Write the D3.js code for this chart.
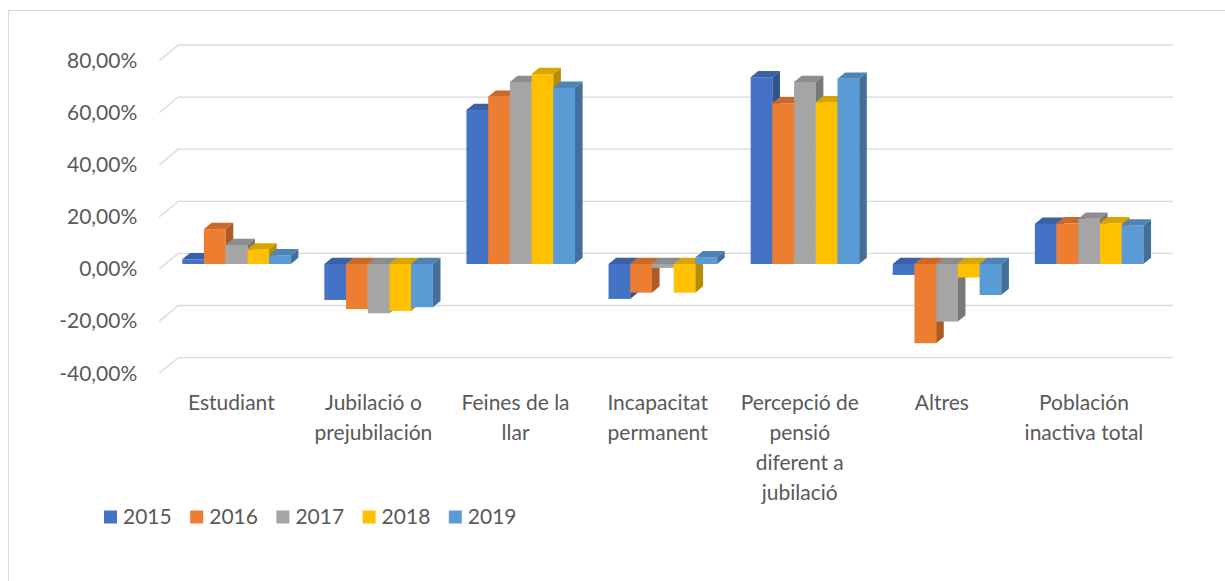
<!DOCTYPE html>
<html>
<head>
<meta charset="utf-8">
<script src="https://cdn.jsdelivr.net/npm/d3@7"></script>
<style>
body { margin: 0; background: #fff; }
text { font-family: Lato, "Open Sans", sans-serif; fill: #595959; }
</style>
</head>
<body>
<svg id="chart" width="1225" height="581"></svg>
<script>
// data (percent)
var categories = ["Estudiant", "Jubilació o prejubilación", "Feines de la llar", "Incapacitat permanent",
                  "Percepció de pensió diferent a jubilació", "Altres", "Población inactiva total"];
var catLines = [["Estudiant"], ["Jubilació o", "prejubilación"], ["Feines de la", "llar"],
                ["Incapacitat", "permanent"], ["Percepció de", "pensió", "diferent a", "jubilació"],
                ["Altres"], ["Población", "inactiva total"]];
var years = ["2015", "2016", "2017", "2018", "2019"];
var v2015 = [1.8, -13.8, 59.1, -13.4, 71.7, -4.2, 15.4];
var v2016 = [13.4, -17.3, 64.2, -11.0, 61.7, -30.4, 15.6];
var v2017 = [7.3, -18.9, 69.9, -1.5, 69.9, -22.1, 17.4];
var v2018 = [5.6, -18.0, 72.9, -11.0, 62.1, -5.2, 15.6];
var v2019 = [3.3, -16.6, 67.6, 2.6, 71.1, -11.9, 14.8];
var series = [v2015, v2016, v2017, v2018, v2019];
var yTicks = [-40, -20, 0, 20, 40, 60, 80];
var colors = ["#4472C4", "#ED7D31", "#A5A5A5", "#FFC000", "#5B9BD5"];

var fontSize = 21;
var svg = d3.select("#chart");

// frame
svg.append("rect")
    .attr("x", 8.5).attr("y", 10.5)
    .attr("width", 1240).attr("height", 600)
    .attr("fill", "none").attr("stroke", "#d9d9d9");

// front plane of the floor, depth goes up-right
var left = 159.3, right = 1154;
var depthX = 19, depthY = 15.7;
var fb = 0.325, fk = 0.725;   // bar front / back as fraction of depth

var yFront = d3.scaleLinear().domain([-40, 80]).range([373.3, 60.7]);

var x0 = d3.scaleBand().domain(categories).range([left, right])
    .paddingInner(0.236).paddingOuter(0.118);
var x1 = d3.scaleBand().domain(years).range([0, x0.bandwidth()]);

// gridlines on side and back wall
svg.append("g").selectAll("path")
    .data(yTicks)
    .join("path")
    .attr("d", function(d) {
        var y = yFront(d);
        return "M" + left + "," + y + "L" + (left + depthX) + "," + (y - depthY) +
               "L" + (right + depthX) + "," + (y - depthY);
    })
    .attr("fill", "none")
    .attr("stroke", "#d9d9d9")
    .attr("stroke-width", 1.3);

// y axis labels
var yAxis = svg.append("g")
    .attr("transform", "translate(" + left + ",0)")
    .call(d3.axisLeft(yFront).tickValues(yTicks).tickSize(0).tickPadding(22)
        .tickFormat(function(d) { return d.toFixed(2).replace(".", ",") + "%"; }));
yAxis.select(".domain").remove();
yAxis.selectAll("text")
    .attr("font-family", "Lato, 'Open Sans', sans-serif")
    .attr("font-size", fontSize + "px")
    .attr("fill", "#595959");

// 3d bars
var ox = fb * depthX, oy = fb * depthY;
var ddx = (fk - fb) * depthX, ddy = (fk - fb) * depthY;
var bars = svg.append("g");

categories.forEach(function(cat, i) {
    years.forEach(function(yr, j) {
        var v = series[j][i];
        var x = x0(cat) + x1(yr) + ox;
        var w = x1.bandwidth();
        var yv = yFront(v) - oy, yz = yFront(0) - oy;
        var yt = Math.min(yv, yz), yb = Math.max(yv, yz);
        var c = d3.color(colors[j]);
        var g = bars.append("g");
        g.append("rect")
            .attr("x", x).attr("y", yt)
            .attr("width", w).attr("height", yb - yt)
            .attr("fill", c);
        g.append("path")
            .attr("d", "M" + x + "," + yt + "L" + (x + ddx) + "," + (yt - ddy) +
                       "L" + (x + w + ddx) + "," + (yt - ddy) + "L" + (x + w) + "," + yt + "Z")
            .attr("fill", c.darker(0.45));
        g.append("path")
            .attr("d", "M" + (x + w) + "," + yt + "L" + (x + w + ddx) + "," + (yt - ddy) +
                       "L" + (x + w + ddx) + "," + (yb - ddy) + "L" + (x + w) + "," + yb + "Z")
            .attr("fill", c.darker(0.9));
    });
});

// category labels
var catG = svg.append("g").selectAll("text")
    .data(categories)
    .join("text")
    .attr("text-anchor", "middle")
    .attr("font-size", fontSize + "px")
    .attr("transform", function(d) { return "translate(" + (x0(d) + x0.bandwidth() / 2 + 1) + ",0)"; });
catG.each(function(d, i) {
    d3.select(this).selectAll("tspan")
        .data(catLines[i])
        .join("tspan")
        .attr("x", 0)
        .attr("y", function(t, k) { return 403 + k * 30; })
        .attr("dy", "0.35em")
        .text(function(t) { return t; });
});

// legend
var leg = svg.append("g").selectAll("g")
    .data(years)
    .join("g")
    .attr("transform", function(d, j) { return "translate(" + (104 + j * 86.2) + ",517)"; });
leg.append("rect")
    .attr("x", 0).attr("y", -6.5)
    .attr("width", 13).attr("height", 13)
    .attr("fill", function(d, j) { return colors[j]; });
leg.append("text")
    .attr("x", 19).attr("dy", "0.35em")
    .attr("font-size", fontSize + "px")
    .text(function(d) { return d; });
</script>
</body>
</html>
